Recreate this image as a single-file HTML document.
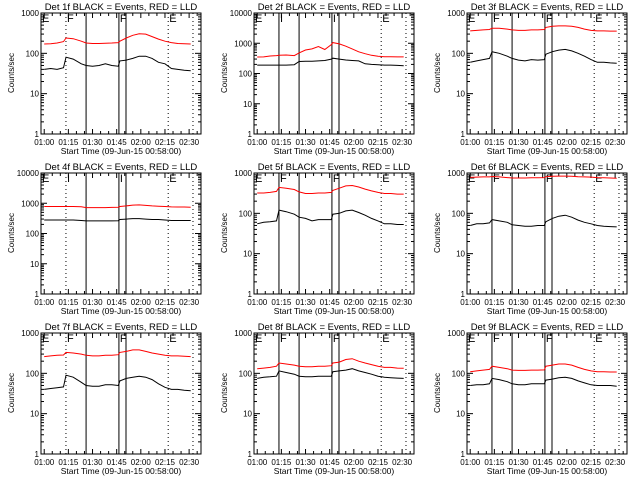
<!DOCTYPE html>
<html><head><meta charset="utf-8"><style>
body{margin:0;background:#fff}
svg{display:block;font-family:"Liberation Sans",sans-serif}
</style></head><body>
<svg id="c" width="640" height="480" viewBox="0 0 640 480"></svg>
<script>
const times=[2,6,10,14,15.5,20,25,28,32,36,40,44,48,49,53,57,61,65,69,73,77,81,85,89,93];
const tickLabels=["01:00","01:15","01:30","01:45","02:00","02:15","02:30"];
const tickMinutes=[2,17,32,47,62,77,92];
const markerMinutes=[15.5,28,48.4,52.8,79,94.4];
const yMaxes=[1000,10000,1000,10000,1000,1000,1000,1000,1000];
const black1=[40,42,40,44,80,72,55,50,48,50,55,50,48,65,68,75,85,85,75,60,55,42,40,38,37];
const red1=[170,172,180,195,240,230,200,180,175,175,178,180,185,200,240,280,305,300,260,225,200,185,175,172,170];
const black2=[190,190,190,190,190,190,195,250,255,255,260,270,300,320,300,280,270,260,210,200,195,190,190,185,180];
const red2=[350,355,380,390,400,410,390,480,600,650,780,620,900,1050,950,800,650,520,450,400,370,360,360,355,355];
const black3=[60,65,70,75,110,100,85,75,68,65,70,68,70,95,110,120,125,115,100,85,70,60,60,58,57];
const red3=[360,370,380,390,420,420,400,380,370,370,380,380,390,440,470,480,480,470,440,400,370,360,360,355,355];
const black4=[280,280,280,280,280,280,270,260,260,260,260,260,265,290,300,310,310,300,290,290,280,270,270,270,270];
const red4=[780,780,780,780,780,780,770,720,720,720,720,730,740,780,820,870,880,850,820,800,780,760,750,750,740];
const black5=[55,60,62,65,120,110,95,80,75,65,70,70,70,95,100,115,120,105,90,75,65,55,55,53,53];
const red5=[320,320,330,350,440,420,390,340,310,310,320,320,330,370,420,480,490,450,400,360,330,310,310,300,300];
const black6=[50,55,55,58,70,65,60,52,50,48,48,50,50,62,75,85,90,80,68,60,55,50,48,47,46];
const red6=[780,790,800,800,820,800,770,750,750,750,760,760,770,810,830,840,840,830,810,800,790,770,760,750,740];
const black7=[40,42,44,46,90,80,60,50,48,48,52,52,50,65,75,80,85,80,70,55,45,40,40,38,37];
const red7=[260,270,280,285,330,320,300,280,270,270,280,280,290,330,350,380,380,350,320,300,280,270,270,265,260];
const black8=[75,80,82,85,115,105,95,85,82,82,85,85,85,110,115,120,130,115,105,95,85,80,78,76,75];
const red8=[130,135,140,150,180,170,160,150,145,145,150,150,155,180,190,220,230,200,180,165,150,140,140,135,133];
const black9=[50,52,52,55,75,70,62,55,52,52,55,55,55,68,72,78,80,75,65,58,52,50,50,50,48];
const red9=[110,115,120,125,150,140,130,120,118,118,120,120,122,150,160,170,170,160,140,125,115,110,110,108,108];
const blacks=[black1,black2,black3,black4,black5,black6,black7,black8,black9];
const reds=[red1,red2,red3,red4,red5,red6,red7,red8,red9];

const NS="http://www.w3.org/2000/svg";
const svg=document.getElementById('c');
function mk(tag,at,parent){const e=document.createElementNS(NS,tag);for(const k in at)e.setAttribute(k,at[k]);(parent||svg).appendChild(e);return e;}
const X0=41,X1=201,Y0=13,Y1=134,PXM=1.61;
for(let p=0;p<9;p++){
  const ox=(p%3)*213, oy=Math.floor(p/3)*160;
  const g=mk('g',{transform:`translate(${ox},${oy})`});
  
  
  const ymax=yMaxes[p], dec=Math.round(Math.log10(ymax));
  const xs=m=>X0+m*PXM;
  const ys=v=>Y0+(dec-Math.log10(v))*(Y1-Y0)/dec;
  const t=mk('text',{x:121,y:10,'text-anchor':'middle','font-size':'9.5'},g);t.textContent=`Det ${p+1}f BLACK = Events, RED = LLD`;
  
  
  const box=mk('rect',{x:X0,y:Y0,width:X1-X0,height:Y1-Y0,fill:'none',stroke:'#000','stroke-width':1},g);
  
  
  // y ticks
  for(let d=0;d<=dec;d++){
    const v=Math.pow(10,d), y=ys(v);
    mk('line',{x1:X0,x2:X0+6,y1:y,y2:y,stroke:'#000'},g);
    mk('line',{x1:X1-6,x2:X1,y1:y,y2:y,stroke:'#000'},g);
    const l=mk('text',{x:X0-2,y:y+3,'text-anchor':'end','font-size':'8'},g);l.textContent=String(v);
    
    
    if(d<dec)for(let k=2;k<10;k++){const yy=ys(v*k);
      mk('line',{x1:X0,x2:X0+3,y1:yy,y2:yy,stroke:'#000'},g);
      mk('line',{x1:X1-3,x2:X1,y1:yy,y2:yy,stroke:'#000'},g);}
  }
  const yt=mk('text',{x:0,y:0,transform:`translate(14,73) rotate(-90)`,'text-anchor':'middle','font-size':'8'},g);yt.textContent='Counts/sec';
  
  
  // x ticks
  for(let m=2;m<=97;m+=5){const x=xs(m);const maj=tickMinutes.includes(m);
    mk('line',{x1:x,x2:x,y1:Y1,y2:Y1-(maj?5:3),stroke:'#000'},g);
    mk('line',{x1:x,x2:x,y1:Y0,y2:Y0+(maj?5:3),stroke:'#000'},g);}
  tickLabels.forEach((s,i)=>{const l=mk('text',{x:xs(tickMinutes[i]),y:145,'text-anchor':'middle','font-size':'8'},g);l.textContent=s;
    
    });
  const xt=mk('text',{x:121,y:154,'text-anchor':'middle','font-size':'8.5'},g);xt.textContent='Start Time (09-Jun-15 00:58:00)';
  
  
  // markers
  const col=p%3;
  markerMinutes.forEach((m,i)=>{const x=xs(m);const dotted=(i>=4)||(i==0&&col==0);
    const ln=mk('line',{x1:x,x2:x,y1:Y0,y2:Y1,stroke:'#000','stroke-width':1,'stroke-dasharray':dotted?'1,3':'none'},g);
    
    });
  const letters=(p==1||p==3)?['E','I','I','E']:['E','F','F','E'];
  const lx=[X0+1,xs(markerMinutes[0])+1,xs(markerMinutes[2])+1,xs(markerMinutes[4])+1];
  letters.forEach((s,i)=>{const l=mk('text',{x:lx[i],y:Y0+9,'font-size':'11'},g);l.textContent=s;
    
    });
  // series
  [[reds[p],'#ff0000','red-lld-series'],[blacks[p],'#000','black-events-series']].forEach(([arr,c,n])=>{
    let pts='';arr.forEach((v,i)=>{pts+=xs(times[i]).toFixed(1)+','+ys(v).toFixed(1)+' ';});
    const pl=mk('polyline',{points:pts,fill:'none',stroke:c,'stroke-width':1},g);
    
    
  });
}
</script>
</body></html>
